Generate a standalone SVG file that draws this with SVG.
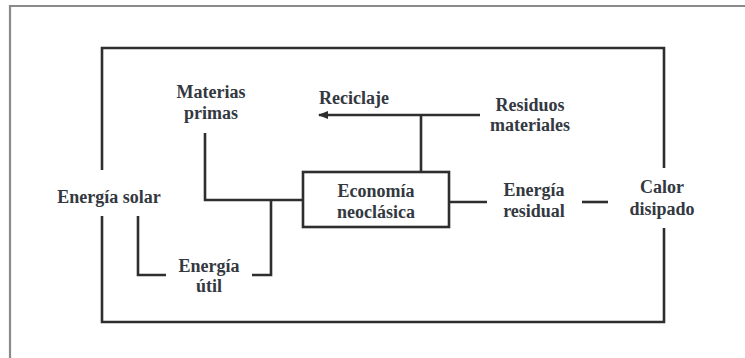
<svg xmlns="http://www.w3.org/2000/svg" width="745" height="358" viewBox="0 0 745 358">
<defs>
<style>
.ln{stroke:#2e2e2e;stroke-width:2.6;fill:none}
.t{font-family:"Liberation Serif","DejaVu Serif",serif;font-weight:bold;font-size:18px;fill:#333841;text-anchor:middle}
</style>
<marker id="ah" markerWidth="10" markerHeight="8" refX="9" refY="4" orient="auto" markerUnits="userSpaceOnUse">
<path d="M0,0 L10,4 L0,8 z" fill="#2e2e2e"/>
</marker>
</defs>
<rect width="745" height="358" fill="#fff"/>
<path d="M10,358 V6 H745" stroke="#8a8a8a" stroke-width="2.2" fill="none"/>
<g id="connectors">
<path class="ln" d="M102,170 V48 H664 V168"/>
<path class="ln" d="M102,216 V322 H664 V228"/>
<path class="ln" d="M480,115 H319" marker-end="url(#ah)"/>
<path class="ln" d="M421,115 V172"/>
<path class="ln" d="M205,133 V200 H303"/>
<path class="ln" d="M138,216 V275 H166"/>
<path class="ln" d="M252,275 H271 V200"/>
<path class="ln" d="M449,202 H487"/>
<path class="ln" d="M582,202 H608"/>
</g>
<g id="economia">
<rect x="303" y="172" width="146" height="55" class="ln"/>
<text class="t" x="376" y="197">Economía</text>
<text class="t" x="376" y="218">neoclásica</text>
</g>
<g id="materias"><text class="t" x="211" y="98">Materias</text><text class="t" x="211" y="119">primas</text></g>
<g id="reciclaje"><text class="t" x="354" y="104">Reciclaje</text></g>
<g id="residuos"><text class="t" x="530" y="111">Residuos</text><text class="t" x="530" y="131">materiales</text></g>
<g id="solar"><text class="t" x="109" y="203">Energía solar</text></g>
<g id="util"><text class="t" x="209" y="272">Energía</text><text class="t" x="209" y="292">útil</text></g>
<g id="residual"><text class="t" x="534" y="196">Energía</text><text class="t" x="534" y="217">residual</text></g>
<g id="calor"><text class="t" x="662" y="193">Calor</text><text class="t" x="662" y="215">disipado</text></g>
</svg>
